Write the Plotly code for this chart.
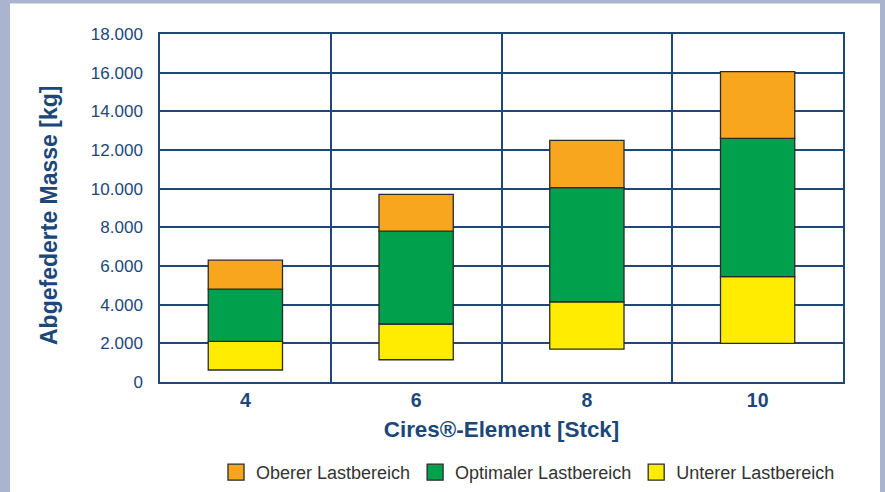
import plotly.graph_objects as go

categories = ["4", "6", "8", "10"]
lower_start = [620, 1150, 1700, 2000]
lower_end = [2100, 3000, 4150, 5450]
optimal_end = [4800, 7800, 10050, 12600]
upper_end = [6300, 9700, 12500, 16050]

names = ["Unterer Lastbereich", "Optimaler Lastbereich", "Oberer Lastbereich"]
colors = ["#ffec00", "#00a04c", "#f7a61e"]

starts = [lower_start, lower_end, optimal_end]
ends = [lower_end, optimal_end, upper_end]

fig = go.Figure()
for name, color, s, e in zip(names, colors, starts, ends):
    fig.add_trace(go.Bar(
        x=categories,
        y=[b - a for a, b in zip(s, e)],
        base=s,
        name=name,
        marker=dict(color=color, line=dict(color="#2b2b2b", width=1.3)),
        width=0.435,
        hoverinfo="skip",
        showlegend=False,
    ))

# legend entries (larger square swatches)
for name, color in zip(names, colors):
    fig.add_trace(go.Scatter(
        x=[None], y=[None], mode="markers", name=name,
        marker=dict(symbol="square", size=16, color=color,
                    line=dict(color="#2b2b2b", width=1.3)),
        hoverinfo="skip",
    ))

L, R, T, B = 160, 42, 34, 110
W, H = 885, 492
pw, ph = W - L - R, H - T - B

def px(x):
    return (x - L) / pw

def py(y):
    return (H - B - y) / ph

fig.add_shape(type="rect", xref="paper", yref="paper",
              x0=px(10), x1=px(880), y0=py(492), y1=py(3.5),
              fillcolor="white", line=dict(width=0), layer="below")

blue = "#1b4779"

fig.add_annotation(
    text="<b>Abgefederte Masse [kg]</b>", textangle=-90,
    xref="paper", yref="paper", x=px(49), y=py(216),
    xanchor="center", yanchor="middle", showarrow=False,
    font=dict(size=23, color=blue),
)

fig.update_layout(
    width=W, height=H,
    margin=dict(l=L, r=R, t=T, b=B),
    paper_bgcolor="#aab4cf",
    plot_bgcolor="white",
    barmode="overlay",
    separators=",.",
    font=dict(family="Liberation Sans, Arial, sans-serif", color=blue),
    showlegend=True,
    legend=dict(
        orientation="h", traceorder="reversed",
        xref="container", yref="container",
        x=216 / W, y=1 - 454 / H, xanchor="left", yanchor="top",
        font=dict(size=18, color="#333333"),
        bgcolor="rgba(0,0,0,0)",
        itemwidth=30,
    ),
    xaxis=dict(
        type="category", tickson="boundaries", showgrid=True,
        gridcolor=blue, gridwidth=1.5, showline=True, linecolor=blue,
        linewidth=1.5, mirror=True, ticks="", ticklabelstandoff=0,
        tickfont=dict(size=19.5, color=blue), automargin=False,
        title=dict(text="<b>Cires®-Element [Stck]</b>", font=dict(size=22.4, color=blue), standoff=11),
    ),
    yaxis=dict(
        range=[0, 18000], dtick=2000, tickformat=",d",
        showgrid=True, gridcolor=blue, gridwidth=1.5,
        showline=True, linecolor=blue, linewidth=1.5, mirror=True,
        ticks="", ticklabelstandoff=12, automargin=False,
        tickfont=dict(size=17, color=blue),
        zeroline=False,
    ),
)
fig.update_xaxes(tickprefix="<b>", ticksuffix="</b>")

fig.write_html("out.html", config={"displayModeBar": False},
               post_script="document.body.style.margin='0';")
